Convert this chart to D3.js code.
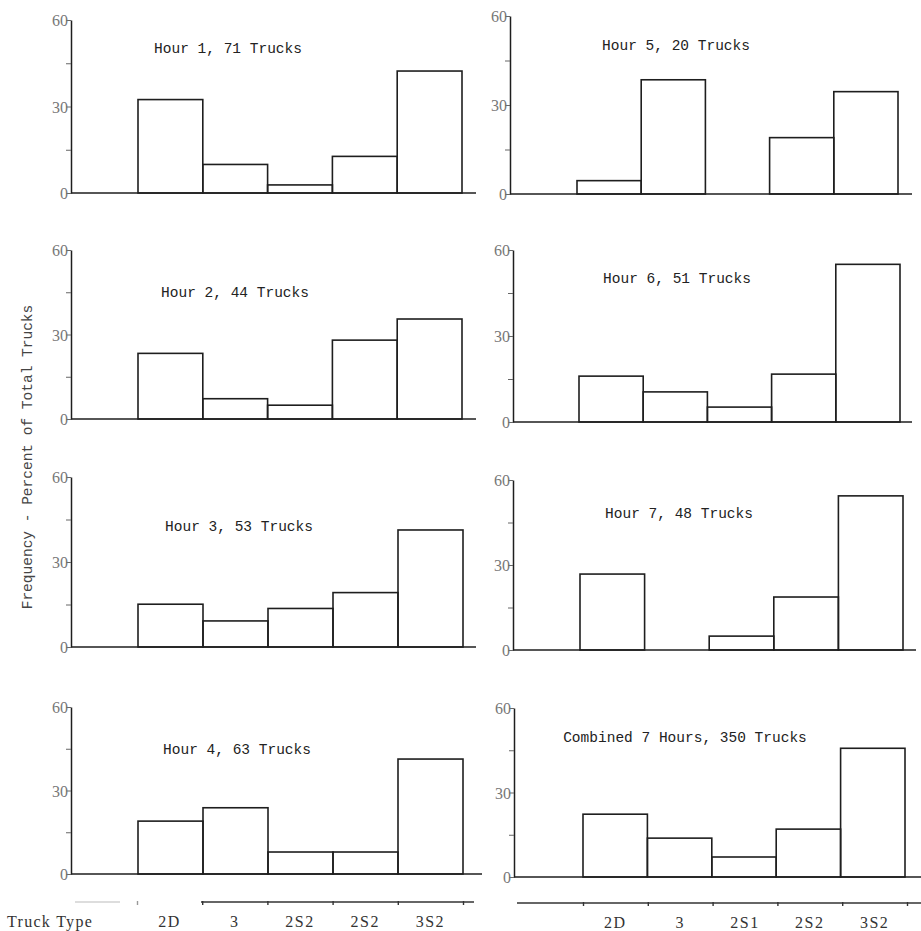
<!DOCTYPE html>
<html>
<head>
<meta charset="utf-8">
<script src="https://cdn.jsdelivr.net/npm/d3@7"></script>
<style>
  body { margin: 0; background: #fff; }
  text { font-family: "Liberation Serif", serif; }
</style>
</head>
<body>
<div id="chart"></div>
<script>
// truck type bins (first bin on the chart is left empty)
const truckTypes = ["2D", "3", "2S1", "2S2", "3S2"];
const leftTypeLabels = ["2D", "3", "2S2", "2S2", "3S2"];
const rightTypeLabels = ["2D", "3", "2S1", "2S2", "3S2"];

const panelTitles = ["Hour 1, 71 Trucks", "Hour 2, 44 Trucks", "Hour 3, 53 Trucks", "Hour 4, 63 Trucks",
  "Hour 5, 20 Trucks", "Hour 6, 51 Trucks", "Hour 7, 48 Trucks", "Combined 7 Hours, 350 Trucks"];

// percent of total trucks
const hour1 = [32.4, 9.9, 2.8, 12.7, 42.3];
const hour2 = [23.3, 7.2, 4.9, 28.0, 35.5];
const hour3 = [15.1, 9.2, 13.6, 19.2, 41.3];
const hour4 = [19.0, 23.8, 7.9, 7.9, 41.3];
const hour5 = [4.5, 38.5, 0, 19.0, 34.5];
const hour6 = [16.0, 10.5, 5.2, 16.7, 55.0];
const hour7 = [26.8, 0, 4.9, 18.7, 54.4];
const combined = [22.3, 13.8, 7.1, 17.0, 45.7];
const panelValues = [hour1, hour2, hour3, hour4, hour5, hour6, hour7, combined];

const yTicks = [0, 15, 30, 45, 60];
const yMax = 60;

// where each panel sits on the page
const layout = [
  { axisX: 71, x0: 138, x1: 462, top: 20, base: 193, end: 476, tx: 228, ty: 53 },
  { axisX: 71, x0: 138, x1: 462, top: 250, base: 419, end: 476, tx: 235, ty: 297 },
  { axisX: 71, x0: 138, x1: 463, top: 477, base: 647, end: 476, tx: 239, ty: 531 },
  { axisX: 71, x0: 138, x1: 463, top: 707, base: 874, end: 482, tx: 237, ty: 754 },
  { axisX: 510, x0: 577, x1: 898, top: 16, base: 194, end: 912, tx: 676, ty: 50 },
  { axisX: 513, x0: 579, x1: 900, top: 250, base: 422, end: 912, tx: 677, ty: 283 },
  { axisX: 513, x0: 580, x1: 903, top: 480, base: 650, end: 916, tx: 679, ty: 518 },
  { axisX: 514, x0: 583, x1: 905, top: 708, base: 877, end: 921, tx: 685, ty: 742 }
];

const ink = "#1e1e1e";
const svg = d3.select("#chart").append("svg")
  .attr("width", 921).attr("height", 931)
  .style("background", "#fff");

panelValues.forEach((vals, p) => {
  const L = layout[p];
  const x = d3.scaleLinear().domain([0, truckTypes.length]).range([L.x0, L.x1]);
  const y = d3.scaleLinear().domain([0, yMax]).range([L.base, L.top]);
  const g = svg.append("g");

  // y axis
  const ya = g.append("g")
    .attr("transform", `translate(${L.axisX},0)`)
    .call(d3.axisLeft(y).tickValues(yTicks).tickSize(5).tickSizeOuter(0)
      .tickFormat(d => d % 30 === 0 ? d : ""));
  ya.attr("font-size", null).attr("font-family", null);
  ya.select(".domain").attr("stroke", ink).attr("stroke-width", 1.5);
  ya.selectAll(".tick line").attr("stroke", "#666").attr("stroke-width", 1);
  ya.selectAll(".tick text")
    .attr("x", -3)
    .attr("dy", "0.35em")
    .attr("font-family", "Liberation Serif, serif")
    .attr("font-size", 16)
    .attr("fill", "#777");

  // baseline
  g.append("line")
    .attr("x1", L.axisX).attr("x2", L.end)
    .attr("y1", y(0)).attr("y2", y(0))
    .attr("stroke", ink).attr("stroke-width", 1.6);

  // bars
  g.selectAll("rect.bar").data(vals).join("rect")
    .attr("class", "bar")
    .attr("x", (d, i) => x(i))
    .attr("width", (d, i) => x(i + 1) - x(i))
    .attr("y", d => y(d))
    .attr("height", d => y(0) - y(d))
    .attr("fill", "none")
    .attr("stroke", ink)
    .attr("stroke-width", 1.6);

  // title
  g.append("text")
    .attr("x", L.tx).attr("y", L.ty)
    .attr("text-anchor", "middle")
    .style("font-family", "'Liberation Mono', 'Courier New', monospace")
    .style("font-size", "14.5px")
    .attr("fill", "#222")
    .text(panelTitles[p]);
});

// bottom truck type axes
const bottomAxes = [
  { x0: 137, x1: 463, y: 902, start: 201, end: 474, faint: [75, 120], labels: leftTypeLabels, ly: 927 },
  { x0: 583, x1: 907, y: 903, start: 517, end: 921, faint: null, labels: rightTypeLabels, ly: 928 }
];

bottomAxes.forEach(b => {
  const x = d3.scaleLinear().domain([0, truckTypes.length]).range([b.x0, b.x1]);
  const g = svg.append("g");
  g.append("line")
    .attr("x1", b.start).attr("x2", b.end)
    .attr("y1", b.y).attr("y2", b.y)
    .attr("stroke", "#333").attr("stroke-width", 1.4);
  if (b.faint) {
    g.append("line")
      .attr("x1", b.faint[0]).attr("x2", b.faint[1])
      .attr("y1", b.y).attr("y2", b.y)
      .attr("stroke", "#bbb").attr("stroke-width", 1.2);
  }
  const ax = g.append("g")
    .attr("transform", `translate(0,${b.y - 1})`)
    .call(d3.axisBottom(x).tickValues(d3.range(truckTypes.length + 1)).tickSize(4).tickFormat(""));
  ax.select(".domain").remove();
  ax.selectAll(".tick line").attr("stroke", (d, i) => (b.faint && i === 0) ? "#999" : "#333")
    .attr("stroke-width", 1.4);

  g.selectAll("text.type").data(b.labels).join("text")
    .attr("class", "type")
    .attr("x", (d, i) => (x(i) + x(i + 1)) / 2)
    .attr("y", b.ly)
    .attr("text-anchor", "middle")
    .style("font-family", "Liberation Serif, serif")
    .style("font-size", "16px")
    .style("letter-spacing", "1.5px")
    .attr("fill", "#333")
    .text(d => d);
});

svg.append("text")
  .attr("x", 7).attr("y", 927)
  .style("font-family", "Liberation Serif, serif")
  .style("font-size", "16px")
  .style("letter-spacing", "1.3px")
  .attr("fill", "#333")
  .text("Truck Type");

// y axis title
svg.append("text")
  .attr("transform", "translate(32,457) rotate(-90)")
  .attr("text-anchor", "middle")
  .style("font-family", "'Liberation Mono', 'Courier New', monospace")
  .style("font-size", "14.5px")
  .attr("fill", "#444")
  .text("Frequency - Percent of Total Trucks");
</script>
</body>
</html>
